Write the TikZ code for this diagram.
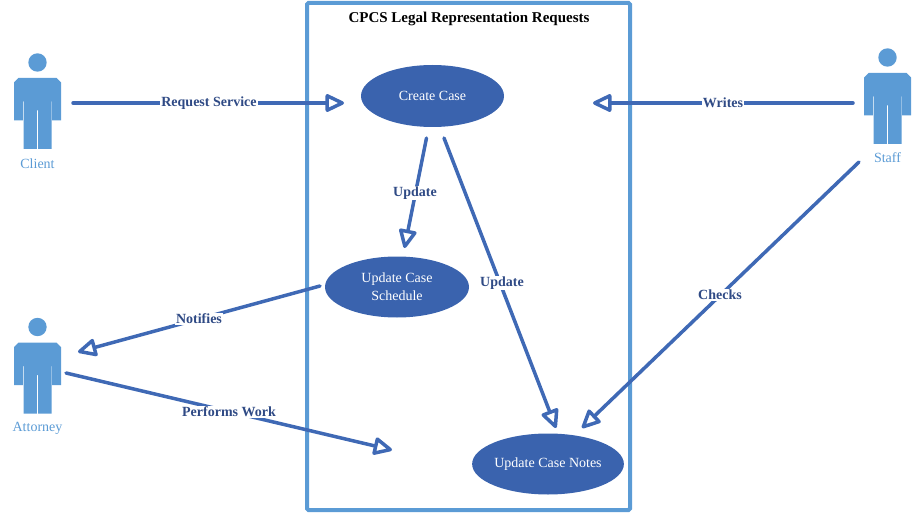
\documentclass[tikz,border=0pt]{standalone}
\usepackage{fontspec}
\setmainfont{Liberation Serif}
\usetikzlibrary{arrows.meta,shapes.geometric}
\definecolor{framecol}{HTML}{5B9BD5}
\definecolor{casecol}{HTML}{3A63AE}
\definecolor{linkcol}{HTML}{3F69B5}
\definecolor{labcol}{HTML}{2F4A85}
\tikzset{
  usecase/.style={ellipse,fill=casecol,text=white,inner sep=0pt,align=center,font=\fontsize{14}{18}\selectfont},
  actorlabel/.style={text=framecol,inner sep=0pt,font=\fontsize{14}{16}\selectfont},
  linklabel/.style={fill=white,text=labcol,inner sep=1pt,font=\bfseries\fontsize{14}{16}\selectfont},
  link/.style={draw=linkcol,line width=3.5pt,line cap=round,line join=round,
    -{Triangle[open,fill=white,length=21pt,width=19pt,line width=3.5pt,round]}},
  actor/.pic={
    \fill[framecol] (0,-40) circle (9.2);
    \fill[framecol] (-23.5,-20) -- (-23.5,18) -- (-14.6,18) -- (-14.6,-1) -- (-14,-1) -- (-14,46.5) -- (-.6,46.5) -- (-.6,8) -- (.6,8) -- (.6,46.5) -- (14,46.5) -- (14,-1) -- (14.6,-1) -- (14.6,18) -- (23.5,18) -- (23.5,-20) -- (19,-24.5) -- (-19,-24.5) -- cycle;
  }
}
\begin{document}
\begin{tikzpicture}[x=1pt,y=-1pt]
\useasboundingbox (0,0) rectangle (913,513);
\node[draw=framecol,line width=4pt,rounded corners=1.5pt,minimum width=323pt,minimum height=507pt,inner sep=0pt] (frame) at (468.5,256.5) {};
\node[font=\bfseries\fontsize{15}{18}\selectfont,inner sep=0pt] (title) at (469,19) {CPCS Legal Representation Requests};
\node[usecase,minimum width=143pt,minimum height=62pt] (create) at (432.5,96) {Create Case};
\node[usecase,minimum width=144pt,minimum height=61pt] (schedule) at (397,287) {Update Case\\Schedule};
\node[usecase,minimum width=143pt,minimum height=61pt] (notes) at (548,464) {Update Case Notes};
\pic at (37.5,102.5) {actor};
\pic at (37.5,367) {actor};
\pic at (887.5,97.5) {actor};
\node[actorlabel] (client) at (37.5,164) {Client};
\node[actorlabel] (attorney) at (37.5,428) {Attorney};
\node[actorlabel] (staff) at (887.5,158) {Staff};
\coordinate (c1) at (73,103);
\coordinate (c2) at (344,103);
\coordinate (s1) at (853,103);
\coordinate (s2) at (593,103);
\coordinate (u1) at (426.5,138);
\coordinate (u2) at (404.5,248);
\coordinate (v1) at (444,138);
\coordinate (v2) at (556,428);
\coordinate (n1) at (320,286);
\coordinate (n2) at (78,352);
\coordinate (p1) at (66,373);
\coordinate (p2) at (392,450);
\coordinate (k1) at (859,162);
\coordinate (k2) at (582,428);
\draw[link] (c1) -- (c2);
\draw[link] (s1) -- (s2);
\draw[link] (u1) -- (u2);
\draw[link] (v1) -- (v2);
\draw[link] (n1) -- (n2);
\draw[link] (p1) -- (p2);
\draw[link] (k1) -- (k2);
\node[linklabel] (l1) at (209,103) {Request Service};
\node[linklabel] (l2) at (723,103) {Writes};
\node[linklabel] (l3) at (415,193) {Update};
\node[linklabel] (l4) at (502,283) {Update};
\node[linklabel] (l5) at (199,319) {Notifies};
\node[linklabel] (l6) at (229,412) {Performs Work};
\node[linklabel] (l7) at (720,295) {Checks};
\end{tikzpicture}
\end{document}
